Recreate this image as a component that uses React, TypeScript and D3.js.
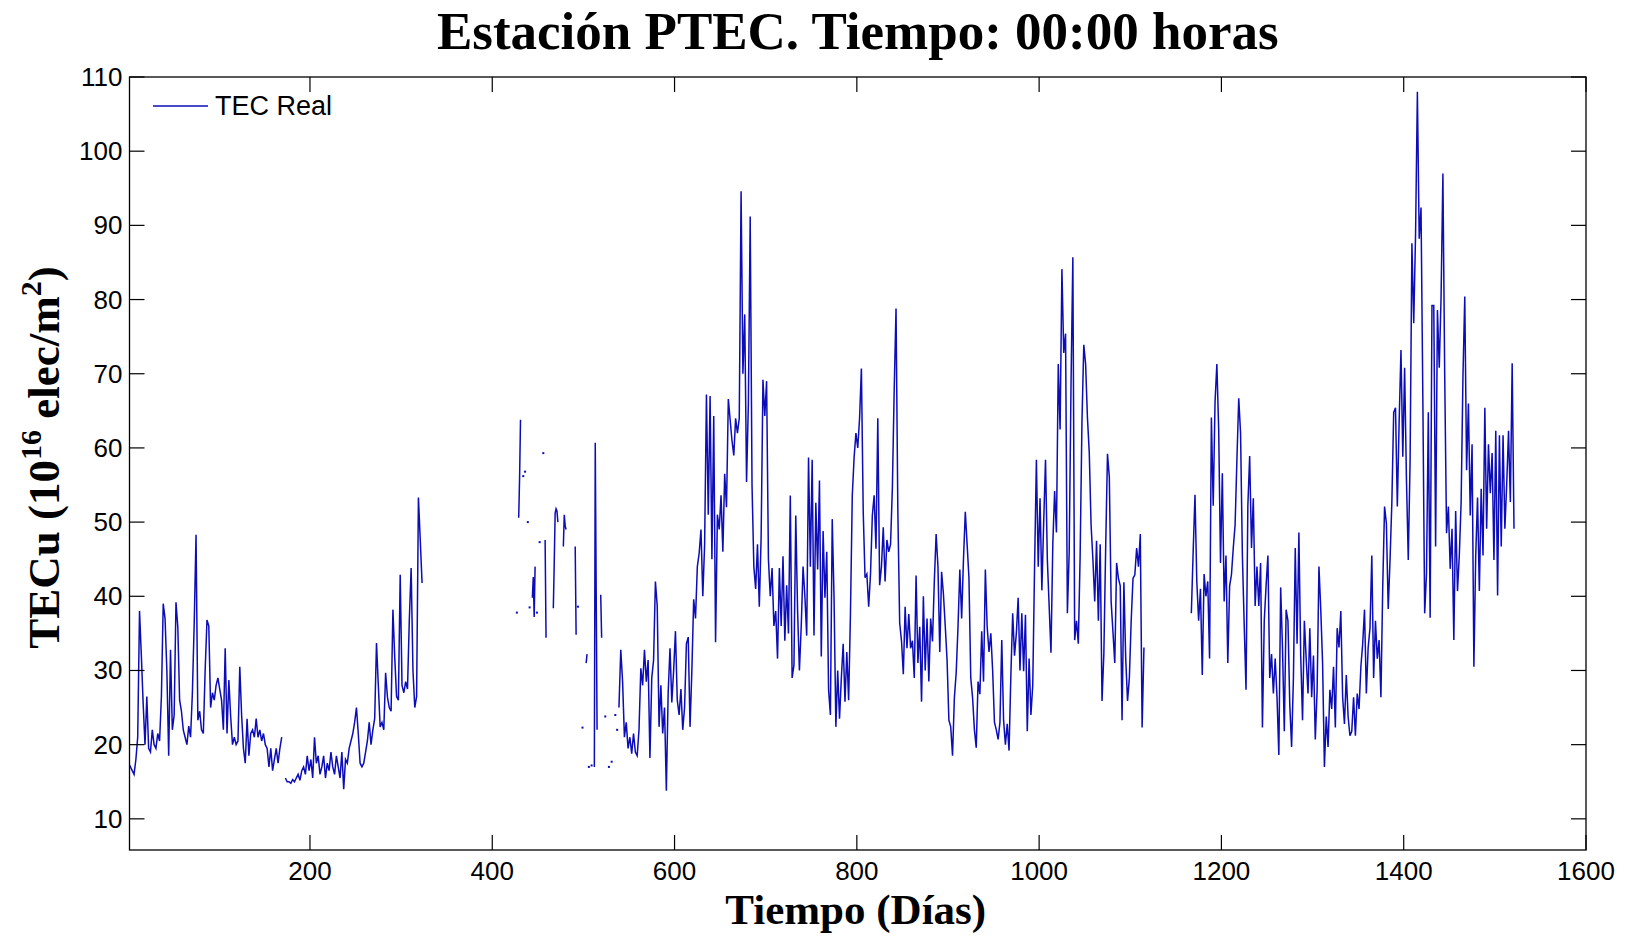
import React from "react";
import * as d3 from "d3";

// Axis ticks
const X_TICKS = [200, 400, 600, 800, 1000, 1200, 1400, 1600];
const Y_TICKS = [10, 20, 30, 40, 50, 60, 70, 80, 90, 100, 110];

// Daily TEC at 00:00, sampled every 2 days. null = missing day.
const TEC_A_START = 1;
const tecA: (number | null)[] = [
  17.5, 17, 16.5, 16, 18, 21, 38, 32, 25.5, 20,
  26.5, 19.5, 19, 22, 20, 19.5, 21.5, 20.5, 26.5, 39,
  37, 30, 18.5, 32.8, 22, 24, 39.2, 35.9, 26, 24.5,
  22, 21, 20, 22.5, 21, 27, 36.4, 48.3, 23.3, 24.5,
  22, 21.5, 30, 36.8, 36, 25, 27, 26, 28, 29,
  27.5, 26, 22, 33, 21.5, 28.7, 23.8, 20, 21, 20,
  20.5, 30.5, 24, 19.5, 17.5, 23.5, 18.5, 21.5, 22, 21,
  23.5, 21, 22, 20.5, 21.5, 20, 19.5, 17, 19.5, 16.5,
  18, 19.5, 17.5, 19.5, 21, null, 15.5, 15, 15, 14.8,
  15.3, 15, 15.5, 16, 15.2, 16.5, 17, 16, 18.5, 16.5,
  18, 15.5, 21, 17.5, 18.5, 16, 17, 18.5, 15.5, 17.5,
  16.5, 19, 17, 16, 18.5, 17, 15.5, 19, 14, 18,
  17.5, 19.5, 20.5, 21.5, 23, 25, 21.5, 17.5, 17, 17.5,
  19, 20.5, 23, 20, 22, 23.5, 33.7, 28, 22.4, 23,
  22, 29.7, 26.4, 25, 24.5, 38.2, 31.8, 26.5, 26, 42.9,
  28, 27, 28.5, 27.5, 36.8, 43.8, 30, 25, 26.5, 53.3,
  47.6, 41.8,
];

// Sparse stretch with scattered daily readings: [day, TEC]
const tecSparse: [number, number][] = [
  [427, 37.8], [429, 50.6], [430, 56], [431, 63.8], [434, 56.2], [436, 56.8],
  [439, 50], [441, 38.5], [444, 39.8], [445, 42.6], [446, 37.2], [447, 44],
  [449, 37.8], [452, 47.3], [456, 59.3], [458, 47.6], [459, 34.4],
  [467, 38.4], [468, 44.5], [469, 51.2], [470, 51.8], [471, 51.5], [472, 50],
  [478, 46.7], [479, 51], [480, 49.5], [481, 49], [491, 46.7], [492, 34.8],
  [494, 38.6], [499, 22.3], [503, 31], [504, 32.2], [506, 17], [509, 17.2],
  [512, 17], [513, 60.7], [514, 41.3], [515, 22], [519, 40.2], [520, 34.4],
  [524, 23.8], [528, 17], [531, 17.7], [535, 24], [537, 22],
];

const TEC_C_START = 539;
const tecC: (number | null)[] = [
  25, 32.8, 28.5, 21, 23, 19.5, 21, 18.8, 21.5, 19,
  18.5, 22, 30.3, 28, 32.8, 28.5, 31.4, 18.2, 29, 31.4,
  42, 38.7, 22.4, 28, 21.5, 25, 13.8, 27, 33, 25.7,
  30, 35.3, 26, 24, 27.5, 22, 25, 33.6, 34.5, 22.4,
  30, 39.6, 37, 44, 45.8, 49, 40, 47, 67.2, 51,
  67, 45, 64.3, 33.8, 51, 49, 53.6, 46, 56.5, 52,
  66.6, 63.8, 61, 59, 64, 62, 64, 94.6, 70, 78,
  55.4, 66, 91.2, 55, 44, 41, 47, 38.6, 48, 69.2,
  64.3, 69, 45, 40, 43.8, 36, 38, 31.6, 43.8, 36,
  45.4, 34, 41.5, 35, 53.6, 29, 30.7, 50.9, 38, 30,
  36, 44, 40, 34.7, 58.7, 44, 58.4, 34.7, 52.6, 43.6,
  55.6, 31.9, 48.8, 39.8, 46, 27.4, 24, 50.4, 39.8, 22.4,
  30, 23.5, 29, 33.6, 25.8, 32.5, 26, 37.6, 53.6, 58.7,
  62, 60, 64, 70.7, 51.4, 42.5, 43, 38.6, 43, 50.9,
  53.6, 46.4, 64, 41.5, 44, 49.3, 42, 47.6, 46, 47,
  54.7, 67.9, 78.8, 51.4, 36.4, 34, 29.5, 38.6, 33, 37.6,
  33, 34, 29, 42.8, 31, 35.9, 25.8, 40, 30, 37,
  28.5, 37, 33.9, 42, 48.4, 44, 32.5, 43.3, 40.3, 36,
  31.4, 23.3, 22.4, 18.5, 26.3, 29.7, 35.9, 43.6, 37, 45,
  51.4, 47, 42.5, 29, 26.3, 22, 19.6, 28.5, 26.8, 35.3,
  28.5, 43.6, 35.9, 32.5, 35, 30, 23, 22, 20.7, 23,
  34.1, 23.3, 20, 22.8, 19.2, 29.4, 37.7, 32, 35, 39.8,
  30, 37.7, 29.9, 37.5, 21.8, 31.6, 24, 28, 44, 58.4,
  44, 53.2, 40.8, 50, 58.4, 45, 38.7, 32.4, 47, 54.2,
  48.6, 71.3, 62.5, 84.1, 72.8, 75.4, 37.7, 46, 68.7, 85.7,
  34.1, 36.7, 33.6, 45.5, 63.6, 73.9, 71.3, 64.1, 59.4, 49.6,
  45, 39.3, 47.5, 36.7, 47, 25.9, 32.2, 46.5, 59.2, 56.1,
  39.3, 35.2, 31, 44.5, 42.4, 41.4, 23.3, 41.9, 31.6, 25.9,
  29, 36.7, 42.4, 42.9, 46.5, 44, 48.4, 22.3, 33.1,
];

const TEC_D_START = 1167;
const tecD: (number | null)[] = [
  37.7, 46, 53.7, 42, 36.7, 41, 29.4, 43, 40, 42,
  31.6, 64.1, 52.2, 66.2, 71.3, 62.5, 44.5, 56.6, 39.3, 45.5,
  31, 41.4, 42.9, 46.5, 49.6, 58.4, 66.7, 62, 45.5, 36.2,
  27.4, 52.2, 58.9, 46.5, 53.2, 38.7, 44, 38.7, 44.5, 22.3,
  36.7, 41.4, 45.5, 29, 32.2, 26.9, 31.6, 26.4, 18.6, 41.2,
  33.1, 21.8, 38.2, 36.7, 25.4, 19.7, 29, 46.5, 33.6, 48.6,
  32, 23.3, 36.7, 31.6, 26.9, 35.7, 26.4, 32, 20.7, 27.4,
  44, 38.2, 31, 17, 23.8, 19.7, 27.4, 24.8, 30.5, 22.3,
  35.7, 33.1, 38, 26.4, 22.8, 29.4, 23.8, 21.2, 21.8, 26.4,
  21.2, 26.9, 24.8, 30.5, 33.6, 38.2, 26.9, 33.1, 35.7, 45.5,
  29, 36.7, 31.6, 34.1, 26.4, 41.4, 52.1, 49.8, 38.3, 44.9,
  52.7, 64.8, 65.4, 52.1, 63.6, 73.2, 58.8, 70.8, 55.8, 44.9,
  58.2, 87.6, 76.8, 88.8, 108, 88.2, 92.4, 66.6, 37.7, 43.1,
  64.8, 37.1, 79.2, 79.2, 46.7, 78.6, 70.8, 80.4, 97, 69.6,
  48.5, 52.1, 43.7, 49.1, 34.1, 51.5, 40.7, 45.5, 52.7, 69.6,
  80.4, 57, 66, 50.9, 60.5, 30.5, 45.5, 53.3, 40.7, 54.5,
  45.5, 65.4, 49.1, 60.5, 53.9, 59.3, 44.9, 62.3, 40.1, 61.7,
  46.7, 61.7, 49.1, 55.1, 62.3, 52.7, 71.4, 49.1,
];

type Pt = { day: number; v: number | null };

const stepSeries = (start: number, step: number, vals: (number | null)[]): Pt[] =>
  vals.map((v, i) => ({ day: start + i * step, v }));

const sparseSeries = (pairs: [number, number][]): Pt[] => {
  const out: Pt[] = [];
  pairs.forEach(([day, v], i) => {
    if (i > 0 && day - pairs[i - 1][0] > 1) out.push({ day: day - 1, v: null });
    out.push({ day, v });
  });
  return out;
};

const W = 1630;
const H = 936;
const M = { left: 129.5, right: 1586, top: 77, bottom: 850 };

const SANS = "'Liberation Sans', Arial, Helvetica, sans-serif";
const SERIF = "'Liberation Serif', 'Times New Roman', Times, serif";
const LINE_COLOR = "#0c0cb8";

export default function App() {
  const x = d3.scaleLinear().domain([2, 1600]).range([M.left, M.right]);
  const y = d3.scaleLinear().domain([5.8, 110]).range([M.bottom, M.top]);

  const line = d3
    .line<Pt>()
    .defined((d) => d.v !== null)
    .x((d) => x(d.day))
    .y((d) => y(d.v as number));

  const series: Pt[][] = [
    stepSeries(TEC_A_START, 2, tecA),
    sparseSeries(tecSparse),
    stepSeries(TEC_C_START, 2, tecC),
    stepSeries(TEC_D_START, 2, tecD),
  ];

  // single readings with no neighbour drawn as dots
  const isolated: Pt[] = [];
  series.forEach((s) =>
    s.forEach((p, i) => {
      if (p.v === null) return;
      const prev = s[i - 1];
      const next = s[i + 1];
      if ((!prev || prev.v === null) && (!next || next.v === null)) isolated.push(p);
    })
  );

  const tickLen = 15;

  return (
    <svg
      width={W}
      height={H}
      style={{ position: "absolute", left: 0, top: 0, background: "#fff" }}
    >
      <rect x={0} y={0} width={W} height={H} fill="#fff" />
      {/* title */}
      <text
        x={(M.left + M.right) / 2}
        y={49}
        textAnchor="middle"
        fontFamily={SERIF}
        fontWeight="bold"
        fontSize={53}
        fill="#000"
      >
        Estación PTEC. Tiempo: 00:00 horas
      </text>

      <defs>
        <clipPath id="plotClip">
          <rect x={M.left} y={M.top} width={M.right - M.left} height={M.bottom - M.top} />
        </clipPath>
      </defs>

      {/* data */}
      <g clipPath="url(#plotClip)">
        {series.map((s, i) => (
          <path
            key={i}
            d={line(s) || ""}
            fill="none"
            stroke={LINE_COLOR}
            strokeWidth={1.5}
            strokeLinejoin="miter"
          />
        ))}
        {isolated.map((p, i) => (
          <rect
            key={i}
            x={x(p.day) - 1}
            y={y(p.v as number) - 1}
            width={2}
            height={2}
            fill={LINE_COLOR}
          />
        ))}
      </g>

      {/* axes box */}
      <rect
        x={M.left}
        y={M.top}
        width={M.right - M.left}
        height={M.bottom - M.top}
        fill="none"
        stroke="#000"
        strokeWidth={1.3}
      />

      {/* x ticks */}
      {X_TICKS.map((t) => (
        <g key={`x${t}`}>
          <line x1={x(t)} x2={x(t)} y1={M.bottom} y2={M.bottom - tickLen} stroke="#000" strokeWidth={1.2} />
          <line x1={x(t)} x2={x(t)} y1={M.top} y2={M.top + tickLen} stroke="#000" strokeWidth={1.2} />
          <text
            x={x(t)}
            y={M.bottom + 30}
            textAnchor="middle"
            fontFamily={SANS}
            fontSize={26}
            fill="#000"
          >
            {t}
          </text>
        </g>
      ))}

      {/* y ticks */}
      {Y_TICKS.map((t) => (
        <g key={`y${t}`}>
          <line x1={M.left} x2={M.left + tickLen} y1={y(t)} y2={y(t)} stroke="#000" strokeWidth={1.2} />
          <line x1={M.right} x2={M.right - tickLen} y1={y(t)} y2={y(t)} stroke="#000" strokeWidth={1.2} />
          <text
            x={M.left - 7}
            y={y(t) + 9}
            textAnchor="end"
            fontFamily={SANS}
            fontSize={26}
            fill="#000"
          >
            {t}
          </text>
        </g>
      ))}

      {/* x label */}
      <text
        x={(M.left + M.right) / 2 - 2}
        y={924}
        textAnchor="middle"
        fontFamily={SERIF}
        fontWeight="bold"
        fontSize={43}
        fill="#000"
      >
        Tiempo (Días)
      </text>

      {/* y label */}
      <text
        transform={`translate(59, ${(M.top + M.bottom) / 2 - 6}) rotate(-90)`}
        textAnchor="middle"
        fontFamily={SERIF}
        fontWeight="bold"
        fontSize={45}
        fill="#000"
      >
        TECu (10
        <tspan dy={-18} fontSize={30}>16</tspan>
        <tspan dy={18}> elec/m</tspan>
        <tspan dy={-18} fontSize={30}>2</tspan>
        <tspan dy={18}>)</tspan>
      </text>

      {/* legend */}
      <line x1={153} x2={208} y1={106} y2={106} stroke={LINE_COLOR} strokeWidth={1.3} />
      <text x={215} y={115} fontFamily={SANS} fontSize={27} fill="#000">
        TEC Real
      </text>
    </svg>
  );
}
